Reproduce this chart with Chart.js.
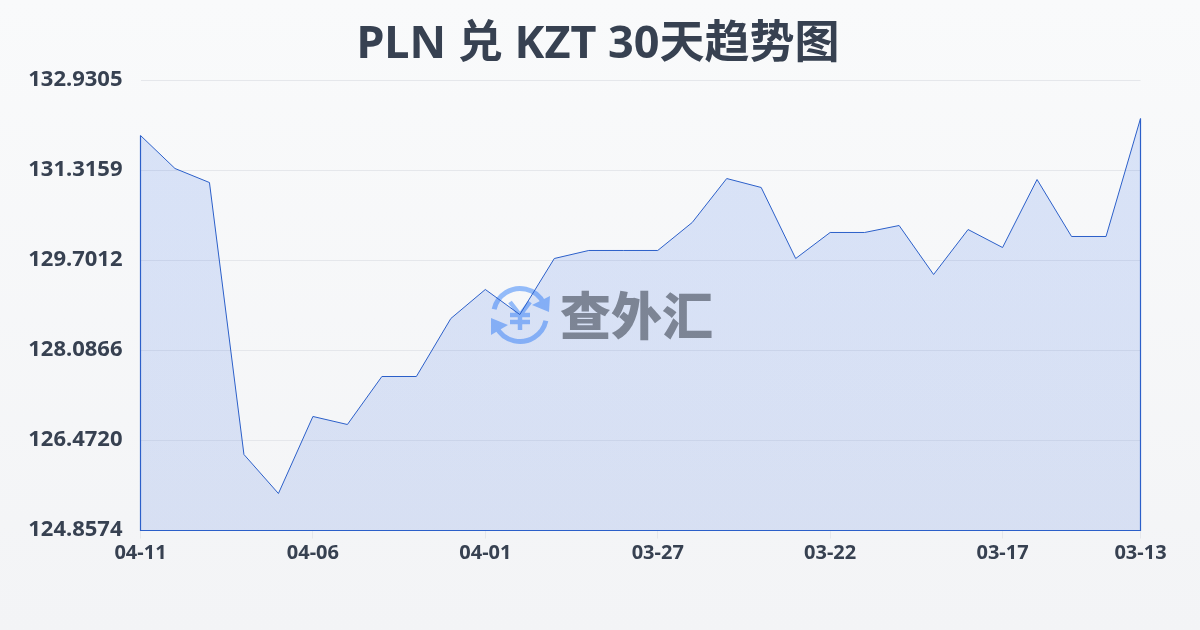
<!DOCTYPE html>
<html><head><meta charset="utf-8">
<script src="https://cdn.jsdelivr.net/npm/chart.js@4/dist/chart.umd.min.js"></script>
<style>html,body{margin:0;padding:0;width:1200px;height:630px;overflow:hidden;background:linear-gradient(180deg,#f9fafb,#f3f4f6)}canvas{display:block}</style>
</head><body><canvas id="c" width="1200" height="630"></canvas>
<script>
const titleText = 'PLN 兑 KZT 30天趋势图';
const dates = ['04-11','04-10','04-09','04-08','04-07','04-06','04-05','04-04','04-03','04-02','04-01','03-31','03-30','03-29','03-28','03-27','03-26','03-25','03-24','03-23','03-22','03-21','03-20','03-19','03-18','03-17','03-16','03-15','03-14','03-13'];
const rates = [131.944,131.352,131.100,126.221,125.521,126.903,126.759,127.620,127.620,128.661,129.181,128.732,129.737,129.881,129.881,129.881,130.383,131.172,131.011,129.737,130.204,130.204,130.329,129.450,130.257,129.934,131.154,130.132,130.132,132.249];
const xTickLabels = ['04-11','04-06','04-01','03-27','03-22','03-17','03-13'];
const yTicks = [124.8574,126.4720,128.0866,129.7012,131.3159,132.9305];
const FONT = '"Noto Sans","Noto Sans CJK SC",sans-serif';

const watermark = {id:'watermark',beforeDatasetsDraw(ch){
  const c=ch.ctx;c.save();
  const cx=520,cy=315,r=26.5;
  c.strokeStyle='#93bbf9';c.fillStyle='#93bbf9';c.lineWidth=5;
  c.beginPath();c.arc(cx,cy,r,Math.PI*1.07,Math.PI*1.86);c.stroke();
  c.beginPath();c.arc(cx,cy,r,Math.PI*0.07,Math.PI*0.86);c.stroke();
  c.beginPath();c.moveTo(549,312);c.lineTo(532,305);c.lineTo(550,296);c.closePath();c.fill();
  c.beginPath();c.moveTo(491,318);c.lineTo(508,325);c.lineTo(491,335);c.closePath();c.fill();
  c.lineWidth=4.5;c.lineCap='butt';
  c.beginPath();c.moveTo(510,302);c.lineTo(520,315);c.lineTo(530,302);c.moveTo(520,315);c.lineTo(520,330);
  c.moveTo(510,315);c.lineTo(530,315);c.moveTo(510,322);c.lineTo(530,322);c.stroke();
  c.fillStyle='#8a8a87';c.font='900 51px "Noto Sans CJK SC"';c.textAlign='left';c.textBaseline='middle';
  c.fillText('查外汇',560,316);
  c.restore();
}};
const closeArea = {id:'closeArea',afterDatasetsDraw(ch){
  const c=ch.ctx,a=ch.chartArea,y=ch.scales.y;
  c.save();c.strokeStyle='#2b5fc9';c.lineWidth=1.2;c.beginPath();
  c.moveTo(a.left,y.getPixelForValue(rates[0]));c.lineTo(a.left,a.bottom);c.lineTo(a.right,a.bottom);c.lineTo(a.right,y.getPixelForValue(rates[rates.length-1]));c.stroke();c.restore();
}};
new Chart(document.getElementById('c'),{
  type:'line',
  data:{labels:dates,datasets:[{data:rates,borderColor:'#2b5fc9',borderWidth:1,tension:0,pointRadius:0,fill:'start',clip:false,
    backgroundColor(ctx){const a=ctx.chart.chartArea;if(!a)return 'rgba(37,99,235,.15)';
      const g=ctx.chart.ctx.createLinearGradient(0,a.top,0,a.bottom);g.addColorStop(0,'rgba(37,99,235,.15)');g.addColorStop(1,'rgba(55,105,220,.15)');return g;}}]},
  plugins:[watermark,closeArea],
  options:{responsive:false,animation:false,
    layout:{padding:{left:0,right:4,top:0,bottom:0}},
    plugins:{legend:{display:false},tooltip:{enabled:false},
      title:{display:true,text:titleText,color:'#374151',font:{family:FONT,size:45,weight:'700'},padding:{top:18,bottom:8.5},align:'center'}},
    scales:{
      x:{type:'category',offset:false,
        afterBuildTicks(s){s.ticks=s.ticks.filter((t,i)=>xTickLabels.includes(dates[t.value]));},
        afterFit(s){s.height=99.5;},
        grid:{drawOnChartArea:false,drawTicks:true,tickLength:8,color:'#e5e7eb'},border:{display:false},
        ticks:{autoSkip:false,maxRotation:0,padding:3,color:'#374151',font:{family:FONT,size:20,weight:'700'},
          callback(v){return dates[v];}}},
      y:{min:yTicks[0],max:yTicks[yTicks.length-1],
        afterBuildTicks(s){s.ticks=yTicks.map(v=>({value:v}));},
        afterFit(s){s.width=140.5;},
        grid:{color:'#e5e7eb',drawTicks:false,lineWidth:1},border:{display:false},
        ticks:{padding:18,labelOffset:-1,color:'#374151',font:{family:FONT,size:22,weight:'700'},callback(v){return v.toFixed(4);}}},
      rightGutter:{position:'right',min:0,max:1,afterBuildTicks(s){s.ticks=[];},afterFit(s){s.width=55.5;},grid:{display:false},border:{display:false},ticks:{display:false}}
    }}
});
</script></body></html>
